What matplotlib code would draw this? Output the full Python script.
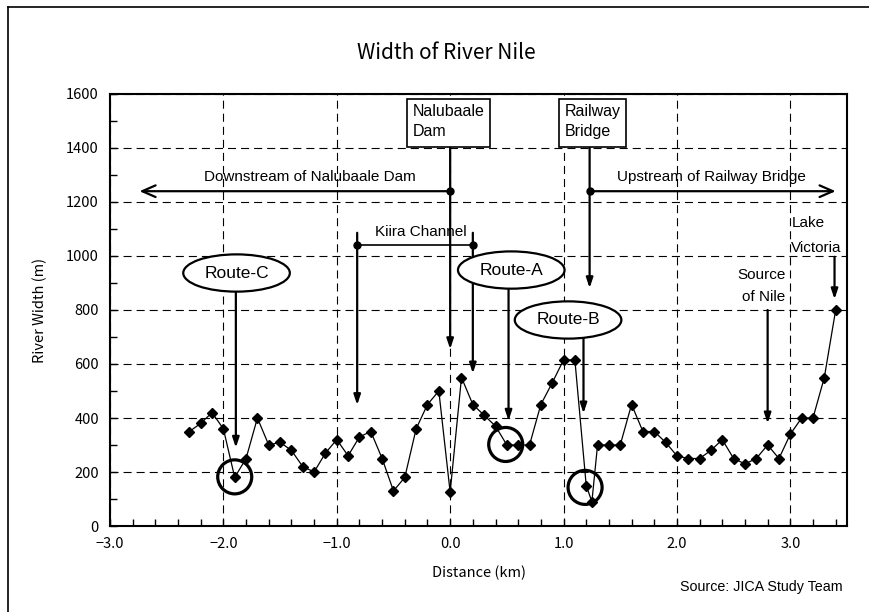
import matplotlib
matplotlib.use("Agg")
import matplotlib.pyplot as plt
from matplotlib.patches import Ellipse, Rectangle
from matplotlib.lines import Line2D
from matplotlib.ticker import MultipleLocator, FuncFormatter

plt.rcParams['lines.scale_dashes'] = False

# River width survey along the Nile (km from Nalubaale Dam, width in m)
distance_km = [-2.3, -2.2, -2.1, -2.0, -1.9, -1.8, -1.7, -1.6, -1.5, -1.4,
               -1.3, -1.2, -1.1, -1.0, -0.9, -0.8, -0.7, -0.6, -0.5, -0.4,
               -0.3, -0.2, -0.1, 0.0, 0.1, 0.2, 0.3, 0.4, 0.5, 0.6,
               0.7, 0.8, 0.9, 1.0, 1.1, 1.2, 1.25, 1.3, 1.4, 1.5,
               1.6, 1.7, 1.8, 1.9, 2.0, 2.1, 2.2, 2.3, 2.4, 2.5,
               2.6, 2.7, 2.8, 2.9, 3.0, 3.1, 3.2, 3.3, 3.4]
width_m = [350, 380, 420, 360, 180, 250, 400, 300, 310, 280,
           220, 200, 270, 320, 260, 330, 350, 250, 130, 180,
           360, 450, 500, 125, 550, 450, 410, 370, 300, 300,
           300, 450, 530, 615, 615, 150, 90, 300, 300, 300,
           450, 350, 350, 310, 260, 250, 250, 280, 320, 250,
           230, 250, 300, 250, 340, 400, 400, 550, 800]

x_ticks = [-3.0, -2.0, -1.0, 0.0, 1.0, 2.0, 3.0]
y_ticks = [0, 200, 400, 600, 800, 1000, 1200, 1400, 1600]

# Route crossing candidates: label, ellipse centre, pointer x, pointer tip, circled point
routes = [
    ("Route-C", (-1.884, 937), -1.89, 290, (-1.90, 182)),
    ("Route-A", (0.539, 948), 0.515, 390, (0.49, 302)),
    ("Route-B", (1.04, 763), 1.176, 417, (1.19, 143)),
]

JP = ['Noto Sans CJK JP', 'DejaVu Sans']
LAT = ['Liberation Sans', 'DejaVu Sans']
ANN = 11

fig = plt.figure(figsize=(8.7, 6.12), dpi=100)
ax = fig.add_axes([110 / 870, 86 / 612, 737 / 870, 432 / 612])

ax.plot(distance_km, width_m, color='black', lw=0.9, marker='D', ms=5.3,
        mfc='black', mec='black', zorder=5)

ax.set_xlim(-3.0, 3.5)
ax.set_ylim(0, 1600)
ax.set_xticks(x_ticks)
ax.set_yticks(y_ticks)
ax.xaxis.set_minor_locator(MultipleLocator(0.2))
ax.yaxis.set_minor_locator(MultipleLocator(100))
ax.xaxis.set_major_formatter(FuncFormatter(lambda v, p: f"{v:.1f}".replace('-', '\u2212')))
ax.tick_params(which='both', direction='in', length=5, width=1, colors='black')
ax.tick_params(which='major', pad=8)
for lab in ax.get_xticklabels() + ax.get_yticklabels():
    lab.set_family(JP)
    lab.set_fontsize(10.5)
ax.grid(True, which='major', color='black', lw=0.8, linestyle=(0, (5.8, 3.6)))
for sp in ax.spines.values():
    sp.set_linewidth(1.5)

arrow_head = dict(arrowstyle='-|>,head_length=0.6,head_width=0.2',
                  color='black', lw=1.6, shrinkA=0, shrinkB=0, mutation_scale=10)
open_head = dict(arrowstyle='->,head_length=0.8,head_width=0.35',
                 color='black', lw=1.6, shrinkA=0, shrinkB=0, mutation_scale=12)


def pointer(x, y0, y1):
    ax.annotate('', xy=(x, y1), xytext=(x, y0), arrowprops=arrow_head, zorder=4)


# Landmark boxes
for (x0, x1, txt, tx) in [(-0.378, 0.352, "Nalubaale\nDam", -0.333),
                          (0.958, 1.552, "Railway\nBridge", 1.009)]:
    ax.add_patch(Rectangle((x0, 1403), x1 - x0, 177, facecolor='white',
                           edgecolor='black', lw=1.2, zorder=6))
    ax.text(tx, 1498, txt, family=LAT, fontsize=11.5, ha='left', va='center',
            linespacing=1.35, zorder=7)

# Dam and bridge pointers
pointer(0.0, 1403, 655)
pointer(1.23, 1403, 881)

# Downstream / upstream arrows
ax.annotate('', xy=(-2.74, 1240), xytext=(0.0, 1240), arrowprops=open_head, zorder=4)
ax.annotate('', xy=(3.40, 1240), xytext=(1.23, 1240), arrowprops=open_head, zorder=4)
ax.plot([0.0, 1.23], [1240, 1240], 'o', color='black', ms=5, zorder=6)
ax.text(-1.238, 1291, "Downstream of Nalubaale Dam", family=LAT, fontsize=ANN,
        ha='center', va='center', zorder=7)
ax.text(2.30, 1294, "Upstream of Railway Bridge", family=LAT, fontsize=ANN,
        ha='center', va='center', zorder=7)

# Kiira Channel
ax.plot([-0.82, 0.2], [1040, 1040], color='black', lw=1.2, zorder=4)
ax.plot([-0.82, 0.2], [1040, 1040], 'o', color='black', ms=5, zorder=6)
pointer(-0.82, 1086, 448)
pointer(0.2, 1086, 565)
ax.text(-0.26, 1090, "Kiira Channel", family=LAT, fontsize=ANN,
        ha='center', va='center', zorder=7)

# Source of Nile and Lake Victoria
ax.text(2.956, 930, "Source", family=LAT, fontsize=ANN, ha='right', va='center', zorder=7)
ax.text(2.956, 849, "of Nile", family=LAT, fontsize=ANN, ha='right', va='center', zorder=7)
pointer(2.8, 800, 380)
ax.text(3.009, 1121, "Lake", family=LAT, fontsize=ANN, ha='left', va='center', zorder=7)
ax.text(3.009, 1028, "Victoria", family=LAT, fontsize=ANN, ha='left', va='center', zorder=7)
pointer(3.39, 997, 840)

# Route labels, pointers and circled crossings
for name, (cx, cy), px, tip, (ox, oy) in routes:
    ax.add_patch(Ellipse((cx, cy), 0.94, 138, facecolor='white', edgecolor='black',
                         lw=1.6, zorder=6))
    ax.text(cx, cy, name, family=LAT, fontsize=12.5, ha='center', va='center', zorder=7)
    pointer(px, cy - 69, tip)
    ax.add_patch(Ellipse((ox, oy), 0.30, 126, facecolor='none', edgecolor='black',
                         lw=2.3, zorder=6))

# Titles and axis labels
fig.text(446 / 870, 1 - 53 / 612, "Width of River Nile", family=JP, fontsize=15,
         ha='center', va='center')
fig.text(478.5 / 870, 1 - 573 / 612, "Distance (km)", family=JP, fontsize=10.5,
         ha='center', va='center')
fig.text(40 / 870, 1 - 310 / 612, "River Width (m)", family=JP, fontsize=10.5,
         ha='center', va='center', rotation=90)
fig.text(843 / 870, 1 - 587 / 612, "Source: JICA Study Team", family=LAT, fontsize=10.3,
         ha='right', va='center')

# Frame around the figure
fig.add_artist(Line2D([8 / 870, 1.0], [1 - 7 / 612, 1 - 7 / 612],
                      transform=fig.transFigure, color='black', lw=1.2))
fig.add_artist(Line2D([8 / 870, 8 / 870], [0.0, 1 - 7 / 612],
                      transform=fig.transFigure, color='black', lw=1.2))

fig.savefig("out.png", dpi=100)
